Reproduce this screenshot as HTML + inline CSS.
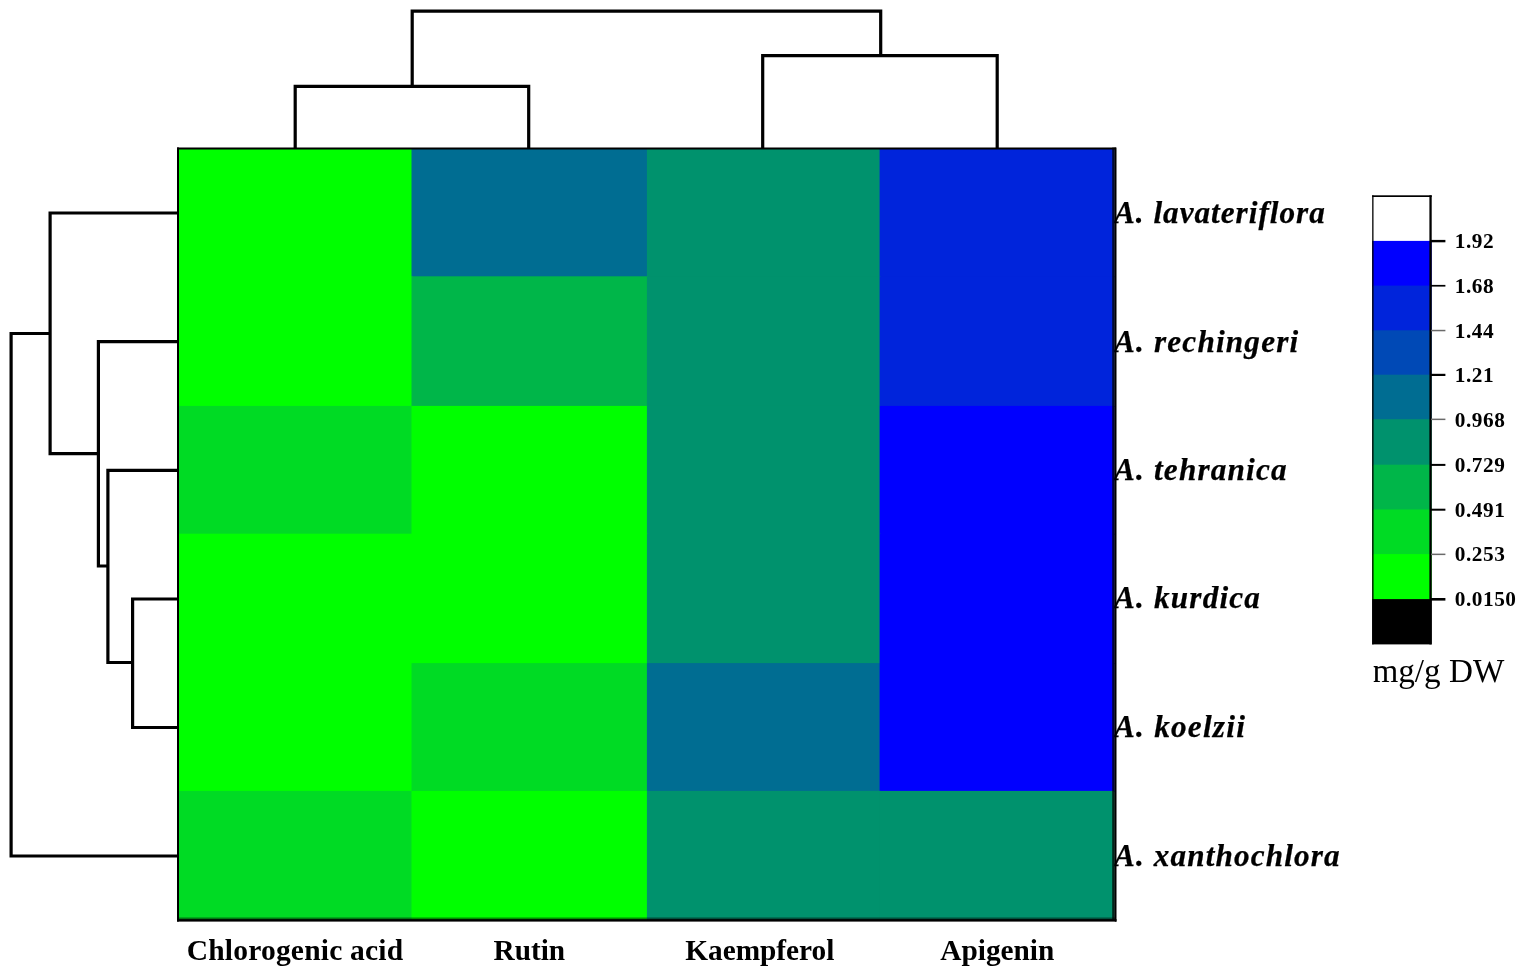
<!DOCTYPE html>
<html lang="en"><head><meta charset="utf-8"><title>Heatmap</title>
<style>html,body{margin:0;padding:0;background:#fff;}body{width:1523px;height:972px;overflow:hidden;}svg{display:block;}text{font-family:"Liberation Serif","Times New Roman",serif;fill:#000;}</style></head><body>
<svg width="1523" height="972" viewBox="0 0 1523 972">
<rect width="1523" height="972" fill="#fff"/>
<g font-size="31.2" font-weight="bold" font-style="italic" stroke="#000" stroke-width="0.25">
<text x="1114" y="222.5" letter-spacing="1.0">A. lavateriflora</text>
<text x="1114" y="351.6" letter-spacing="1.2">A. rechingeri</text>
<text x="1114" y="479.8" letter-spacing="1.2">A. tehranica</text>
<text x="1114" y="608.4" letter-spacing="1.2">A. kurdica</text>
<text x="1114" y="737" letter-spacing="1.25">A. koelzii</text>
<text x="1114" y="866" letter-spacing="1.14">A. xanthochlora</text>
</g>
<g>
<rect x="178.0" y="148.5" width="234.5" height="128.8" fill="#00FF00"/>
<rect x="411.5" y="148.5" width="236.4" height="128.8" fill="#006D92"/>
<rect x="646.9" y="148.5" width="233.7" height="128.8" fill="#00926D"/>
<rect x="879.6" y="148.5" width="234.9" height="128.8" fill="#0024DB"/>
<rect x="178.0" y="276.3" width="234.5" height="130.6" fill="#00FF00"/>
<rect x="411.5" y="276.3" width="236.4" height="130.6" fill="#00B649"/>
<rect x="646.9" y="276.3" width="233.7" height="130.6" fill="#00926D"/>
<rect x="879.6" y="276.3" width="234.9" height="130.6" fill="#0024DB"/>
<rect x="178.0" y="405.9" width="234.5" height="128.8" fill="#00DB24"/>
<rect x="411.5" y="405.9" width="236.4" height="128.8" fill="#00FF00"/>
<rect x="646.9" y="405.9" width="233.7" height="128.8" fill="#00926D"/>
<rect x="879.6" y="405.9" width="234.9" height="128.8" fill="#0000FF"/>
<rect x="178.0" y="533.7" width="234.5" height="130.4" fill="#00FF00"/>
<rect x="411.5" y="533.7" width="236.4" height="130.4" fill="#00FF00"/>
<rect x="646.9" y="533.7" width="233.7" height="130.4" fill="#00926D"/>
<rect x="879.6" y="533.7" width="234.9" height="130.4" fill="#0000FF"/>
<rect x="178.0" y="663.1" width="234.5" height="128.8" fill="#00FF00"/>
<rect x="411.5" y="663.1" width="236.4" height="128.8" fill="#00DB24"/>
<rect x="646.9" y="663.1" width="233.7" height="128.8" fill="#006D92"/>
<rect x="879.6" y="663.1" width="234.9" height="128.8" fill="#0000FF"/>
<rect x="178.0" y="790.9" width="234.5" height="129.5" fill="#00DB24"/>
<rect x="411.5" y="790.9" width="236.4" height="129.5" fill="#00FF00"/>
<rect x="646.9" y="790.9" width="233.7" height="129.5" fill="#00926D"/>
<rect x="879.6" y="790.9" width="234.9" height="129.5" fill="#00926D"/>
</g>
<g fill="#000">
<rect x="177" y="147.5" width="939" height="2"/>
<rect x="177" y="147.5" width="2" height="774"/>
<rect x="1112.2" y="147.5" width="3" height="772" fill-opacity="0.75"/>
<rect x="1114.8" y="147.5" width="1.7" height="774.1"/>
<rect x="177" y="917.5" width="938" height="1.8" fill-opacity="0.45"/>
<rect x="177" y="919.1" width="939.5" height="2.5"/>
</g>
<path d="M295.2 148 V86.4 H528.7 V148" fill="none" stroke="#000" stroke-width="3.2" stroke-linejoin="miter" stroke-linecap="butt"/>
<path d="M762.7 148 V55.6 H997.2 V148" fill="none" stroke="#000" stroke-width="3.2" stroke-linejoin="miter" stroke-linecap="butt"/>
<path d="M412.2 86.4 V11.2 H880.7 V55.6" fill="none" stroke="#000" stroke-width="3.2" stroke-linejoin="miter" stroke-linecap="butt"/>
<path d="M178 599 H132.6 V727.5 H178" fill="none" stroke="#000" stroke-width="3.2" stroke-linejoin="miter" stroke-linecap="butt"/>
<path d="M178 470.4 H107.9 V662.5 H132.6" fill="none" stroke="#000" stroke-width="3.2" stroke-linejoin="miter" stroke-linecap="butt"/>
<path d="M178 341.7 H98.4 V566 H107.9" fill="none" stroke="#000" stroke-width="3.2" stroke-linejoin="miter" stroke-linecap="butt"/>
<path d="M178 213 H50.1 V453.7 H98.4" fill="none" stroke="#000" stroke-width="3.2" stroke-linejoin="miter" stroke-linecap="butt"/>
<path d="M50.1 333.5 H11.1 V856 H178" fill="none" stroke="#000" stroke-width="3.2" stroke-linejoin="miter" stroke-linecap="butt"/>
<g font-weight="bold" text-anchor="middle">
<text x="295" y="960" font-size="29.5" letter-spacing="0.2">Chlorogenic acid</text>
<text x="529.3" y="960" font-size="29.3" letter-spacing="0">Rutin</text>
<text x="759.8" y="960" font-size="29.3" letter-spacing="0">Kaempferol</text>
<text x="997.3" y="960" font-size="29.3" letter-spacing="0">Apigenin</text>
</g>
<g>
<rect x="1372.2" y="195.5" width="59.5" height="46.4" fill="#FFFFFF"/>
<rect x="1372.2" y="240.9" width="59.5" height="45.7" fill="#0000FF"/>
<rect x="1372.2" y="285.6" width="59.5" height="45.7" fill="#0024DB"/>
<rect x="1372.2" y="330.3" width="59.5" height="45.4" fill="#0049B6"/>
<rect x="1372.2" y="374.7" width="59.5" height="45.5" fill="#006D92"/>
<rect x="1372.2" y="419.2" width="59.5" height="46.5" fill="#00926D"/>
<rect x="1372.2" y="464.7" width="59.5" height="45.8" fill="#00B649"/>
<rect x="1372.2" y="509.5" width="59.5" height="45.6" fill="#00DB24"/>
<rect x="1372.2" y="554.1" width="59.5" height="46.0" fill="#00FF00"/>
<rect x="1372.2" y="599.1" width="59.5" height="45.3" fill="#000000"/>
</g>
<g fill="#000">
<rect x="1372.2" y="195.3" width="59.5" height="1.7"/>
<rect x="1372.2" y="195.3" width="1.3" height="449.1"/>
<rect x="1429.4" y="195.3" width="2.3" height="449.1"/>
<rect x="1431" y="239.9" width="14.4" height="2.4"/>
<rect x="1431" y="284.9" width="14.4" height="1.7"/>
<rect x="1431" y="329.8" width="14.4" height="1.5" fill="#6a6a6a"/>
<rect x="1431" y="373.8" width="14.4" height="2.2"/>
<rect x="1431" y="418.6" width="14.4" height="1.5" fill="#6a6a6a"/>
<rect x="1431" y="463.9" width="14.4" height="2.0"/>
<rect x="1431" y="508.7" width="14.4" height="2.0"/>
<rect x="1431" y="553.6" width="14.4" height="1.5" fill="#6a6a6a"/>
<rect x="1431" y="598.0" width="14.4" height="2.6"/>
</g>
<g font-size="21.3" font-weight="bold" letter-spacing="0.55">
<text x="1454.7" y="248.2">1.92</text>
<text x="1454.7" y="292.9">1.68</text>
<text x="1454.7" y="337.6">1.44</text>
<text x="1454.7" y="382.0">1.21</text>
<text x="1454.7" y="426.5">0.968</text>
<text x="1454.7" y="472.0">0.729</text>
<text x="1454.7" y="516.8">0.491</text>
<text x="1454.7" y="561.4">0.253</text>
<text x="1454.7" y="606.4">0.0150</text>
</g>
<clipPath id="uc"><rect x="1373.6" y="646" width="150" height="60"/></clipPath>
<text x="1372.4" y="682.3" font-size="33.2" clip-path="url(#uc)">mg/g DW</text>
</svg></body></html>
